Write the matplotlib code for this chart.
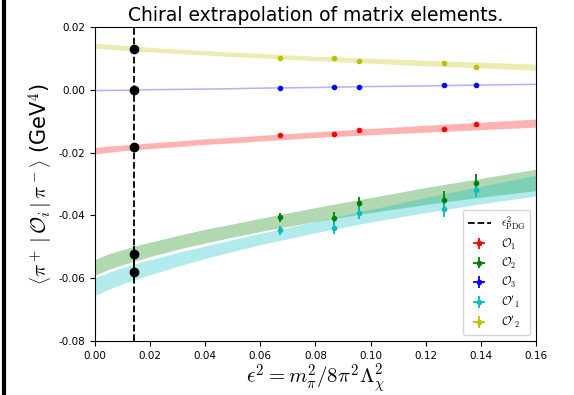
import numpy as np
import matplotlib.pyplot as plt
from matplotlib.lines import Line2D

plt.rcParams['mathtext.fontset'] = 'cm'
plt.rcParams['axes.unicode_minus'] = False

# lattice ensembles, epsilon^2 values
eps2 = [0.0671, 0.0866, 0.0957, 0.1266, 0.1383]
eps2_pdg = 0.0143

labels = [r'$\mathcal{O}_1$', r'$\mathcal{O}_2$', r'$\mathcal{O}_3$',
          r"$\mathcal{O}'_1$", r"$\mathcal{O}'_2$"]
colors = ['r', 'g', 'b', 'c', 'y']

# matrix elements on each ensemble (GeV^4)
o1 = [-0.0144, -0.0142, -0.0129, -0.0126, -0.0108]
o2 = [-0.0406, -0.0408, -0.0362, -0.0350, -0.0296]
o3 = [0.0006, 0.0009, 0.0010, 0.0014, 0.0016]
o1p = [-0.0447, -0.0439, -0.0393, -0.0380, -0.0320]
o2p = [0.0101, 0.0101, 0.0091, 0.0086, 0.0074]

o1_err = [0.0004, 0.0004, 0.0004, 0.0005, 0.0005]
o2_err = [0.0015, 0.0019, 0.0020, 0.0027, 0.0028]
o3_err = [0.0002, 0.0002, 0.0002, 0.0002, 0.0002]
o1p_err = [0.0014, 0.0019, 0.0019, 0.0025, 0.0022]
o2p_err = [0.0003, 0.0003, 0.0003, 0.0003, 0.0003]

# extrapolated values at the physical point
pdg_vals = [-0.0182, -0.0522, 0.0000, -0.0580, 0.0131]
pdg_errs = [0.0009, 0.0025, 0.0002, 0.0027, 0.0007]

# fit bands (centre and half width)
band_x = [0.0, 0.005, 0.01, 0.015, 0.02, 0.03, 0.04, 0.05, 0.06, 0.08,
          0.10, 0.12, 0.14, 0.16]
o1_band = [-0.0194, -0.0189, -0.0185, -0.0182, -0.0178, -0.0172, -0.0165,
           -0.0160, -0.0154, -0.0143, -0.0133, -0.0124, -0.0115, -0.0106]
o1_w = [0.0010, 0.0010, 0.0009, 0.0009, 0.0009, 0.0009, 0.0009, 0.0009,
        0.0009, 0.0009, 0.0010, 0.0011, 0.0012, 0.0013]
o2_band = [-0.0565, -0.0547, -0.0533, -0.0520, -0.0508, -0.0486, -0.0466,
           -0.0448, -0.0430, -0.0397, -0.0367, -0.0338, -0.0312, -0.0287]
o2_w = [0.0025, 0.0025, 0.0024, 0.0024, 0.0023, 0.0022, 0.0022, 0.0021,
        0.0021, 0.0022, 0.0024, 0.0027, 0.0030, 0.0034]
o3_band = [-0.0001, -0.0000, 0.0000, 0.0001, 0.0002, 0.0003, 0.0004,
           0.0005, 0.0007, 0.0009, 0.0012, 0.0014, 0.0017, 0.0019]
o3_w = [0.00025] * 14
o1p_band = [-0.0627, -0.0608, -0.0592, -0.0578, -0.0565, -0.0540, -0.0517,
            -0.0496, -0.0475, -0.0437, -0.0401, -0.0367, -0.0335, -0.0305]
o1p_w = [0.0028, 0.0027, 0.0026, 0.0025, 0.0024, 0.0022, 0.0020, 0.0019,
         0.0018, 0.0018, 0.0020, 0.0024, 0.0028, 0.0033]
o2p_band = [0.0141, 0.0137, 0.0134, 0.0131, 0.0128, 0.0123, 0.0118,
            0.0113, 0.0109, 0.0100, 0.0093, 0.0085, 0.0079, 0.0072]
o2p_w = [0.0008, 0.0008, 0.0008, 0.0008, 0.0007, 0.0007, 0.0007, 0.0007,
         0.0007, 0.0007, 0.0008, 0.0009, 0.0009, 0.0010]

data = [o1, o2, o3, o1p, o2p]
errs = [o1_err, o2_err, o3_err, o1p_err, o2p_err]
bands = [o1_band, o2_band, o3_band, o1p_band, o2p_band]
widths = [o1_w, o2_w, o3_w, o1p_w, o2p_w]

fig = plt.figure(figsize=(5.74, 3.95), dpi=100)
ax = fig.add_axes([0.1655, 0.1367, 0.7683, 0.7949])

for c, b, w in zip(colors, bands, widths):
    b = np.array(b)
    w = np.array(w)
    ax.fill_between(band_x, b - w, b + w, color=c, alpha=0.3, lw=0)

ax.axvline(eps2_pdg, color='k', ls='--', lw=1.3, label=r'$\epsilon^2_{\rm PDG}$')

for y, e, c, lab in zip(data, errs, colors, labels):
    ax.errorbar(eps2, y, yerr=e, xerr=0, fmt='o', color=c, ms=3,
                elinewidth=1.3, capsize=0, label=lab)

ax.errorbar([eps2_pdg] * 5, pdg_vals, yerr=pdg_errs, fmt='o', color='k',
            ms=6, elinewidth=1.3, capsize=0, zorder=5)

ax.set_xlim(0, 0.16)
ax.set_ylim(-0.08, 0.02)
ax.set_xticks(np.arange(0, 0.161, 0.02))
ax.set_yticks(np.arange(-0.08, 0.021, 0.02))
ax.tick_params(labelsize=7.5)
ax.set_title('Chiral extrapolation of matrix elements.', fontsize=13.5, pad=4)
ax.set_xlabel(r'$\epsilon^2 = m_\pi^2/8\pi^2\Lambda_\chi^2$', fontsize=15, labelpad=1)
ax.set_ylabel(r'$\left\langle \pi^+ \,|\, \mathcal{O}_i \,|\, \pi^- \right\rangle$ (GeV$^4$)',
              fontsize=15, labelpad=2)
ax.legend(loc='lower right', fontsize=8.5, labelspacing=0.35)

fig.add_artist(Line2D([0.007, 0.007], [0, 1], transform=fig.transFigure,
                      color='k', lw=3))

plt.savefig('out.png', dpi=100)
